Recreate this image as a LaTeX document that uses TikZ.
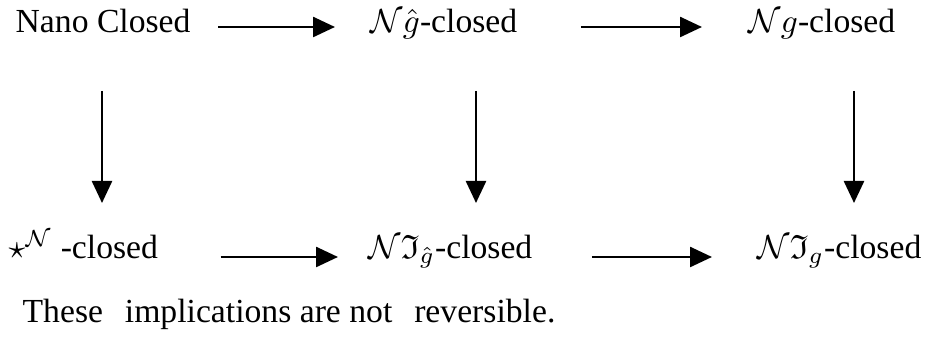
\documentclass[tikz,border=0pt]{standalone}
\usepackage{fontspec}
\setmainfont{Liberation Serif}
\usepackage{amsmath}
\usepackage{amssymb}
\usetikzlibrary{arrows.meta}

\begin{document}
\begin{tikzpicture}[
    x=0.3pt, y=-0.3pt,
    textnode/.style={anchor=base west, inner sep=0pt, font=\fontsize{10.1}{12}\selectfont},
    implies/.style={line width=0.75pt, -{Triangle[length=6.6pt, width=6pt]}}
    ]
    \useasboundingbox (0,0) rectangle (933,347);

    %Top nodes
    \node[textnode]     (nano_closed)      at (15,33)   {Nano Closed};
    \node[textnode]     (ng_hat_closed)    at (370,33)  {$\mathcal{N}\hat{g}$-closed};
    \node[textnode]     (ng_closed)        at (748,33)  {$\mathcal{N}g$-closed};

    %Bottom nodes
    \node[textnode]     (star_closed)      at (8,259)   {$\star^{\mathcal{N}}$ -closed};
    \node[textnode]     (ni_hat_closed)    at (368,259) {$\mathcal{N}\mathfrak{I}_{\hat{g}}$-closed};
    \node[textnode]     (ni_closed)        at (757,259) {$\mathcal{N}\mathfrak{I}_{g}$-closed};

    %Note
    \node[textnode]     (note)             at (22,323)  {These\hspace{0.4em} implications are not\hspace{0.4em} reversible.};

    %Lines
    \draw[implies]  ([shift={(27,-6)}]nano_closed.base east) -- ([shift={(-35,-6)}]ng_hat_closed.base west);
    \draw[implies]  ([shift={(63,-6)}]ng_hat_closed.base east) -- ([shift={(-46,-6)}]ng_closed.base west);

    \draw[implies]  ([shift={(62,-2)}]star_closed.base east) -- ([shift={(-30,-2)}]ni_hat_closed.base west);
    \draw[implies]  ([shift={(59,-2)}]ni_hat_closed.base east) -- ([shift={(-45,-2)}]ni_closed.base west);

    \draw[implies]  ([shift={(87,58)}]nano_closed.base west) -- ([shift={(94,-56)}]star_closed.base west);
    \draw[implies]  ([shift={(106,58)}]ng_hat_closed.base west) -- ([shift={(108,-56)}]ni_hat_closed.base west);
    \draw[implies]  ([shift={(106,58)}]ng_closed.base west) -- ([shift={(97,-56)}]ni_closed.base west);

\end{tikzpicture}
\end{document}
